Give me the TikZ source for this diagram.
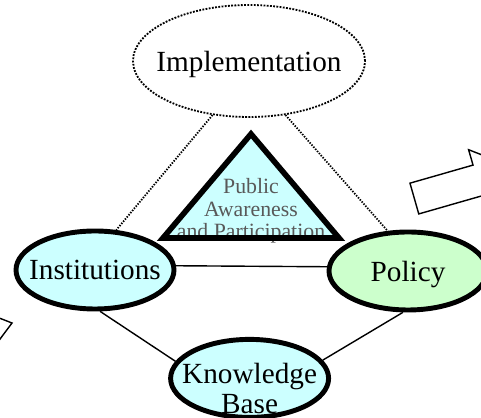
\documentclass[tikz,border=0pt]{standalone}
\usepackage{fontspec}
\setmainfont{Liberation Serif}
\usepackage{tikz}
\usetikzlibrary{shapes.geometric}
\definecolor{paleCyan}{HTML}{CCFFFF}
\definecolor{paleGreen}{HTML}{CCFFCC}
\definecolor{textGrey}{HTML}{595959}

\begin{document}
\begin{tikzpicture}[line join=miter,
  main node/.style={ellipse,draw=black,line width=3.5pt,minimum width=3.95cm,minimum height=1.95cm,inner xsep=-0.3cm,inner ysep=0pt,text depth=0pt,font=\fontsize{20.8}{21.5}\selectfont},
  plan node/.style={ellipse,draw=black,densely dotted,line width=1.3pt,minimum width=5.8cm,minimum height=2.8cm,inner xsep=-0.3cm,inner ysep=0pt,text depth=0pt,font=\fontsize{20.8}{21.5}\selectfont},
  link/.style={line width=1pt},
  block arrow/.style={draw=black,line width=1pt,fill=white}]

\useasboundingbox (0,0) rectangle (12.025,10.45);
\clip (0,0) rectangle (12.025,10.45);

\node at (6.225,8.925) [plan node] (impl) {Implementation};
\node at (2.375,3.7) [main node,fill=paleCyan] (inst) {Institutions};
\node at (10.2,3.675) [main node,fill=paleGreen] (pol) {Policy};
\node at (6.24,0.99) [main node,fill=paleCyan] (know) {};
\node at (6.24,0.74) [align=center,font=\fontsize{20.8}{21.5}\selectfont] (knowtext) {Knowledge\\Base};

% triangle in the middle
\coordinate (tl) at (4.075,4.5);
\coordinate (tt) at (6.275,7.1);
\coordinate (tr) at (8.475,4.5);
\fill[paleCyan] (tl) -- (tt) -- (tr) -- cycle;
\node at (6.275,5.175) [align=center,text=textGrey,font=\fontsize{15.5}{16}\selectfont] (pap) {Public\\Awareness\\and Participation};
\draw[line width=4pt] (tl) -- (tt) -- (tr) -- cycle;

\draw[link,densely dotted,line width=1.3pt] (impl.-124) -- (inst.62)
      (impl.-56) -- (pol.117);
\draw[link] (inst.3) -- (pol.177)
      (inst.-83) -- (know.167)
      (pol.-97) -- (know.14);

\foreach \tip in {(0.3,2.375),(12.945,6.2275)}
  \draw[block arrow,shift={\tip},rotate=16] (0,0) -- (-1.05,0.8) -- (-1.05,0.4) -- (-2.69,0.4)
      -- (-2.69,-0.4) -- (-1.05,-0.4) -- (-1.05,-0.8) -- cycle;

\end{tikzpicture}
\end{document}
